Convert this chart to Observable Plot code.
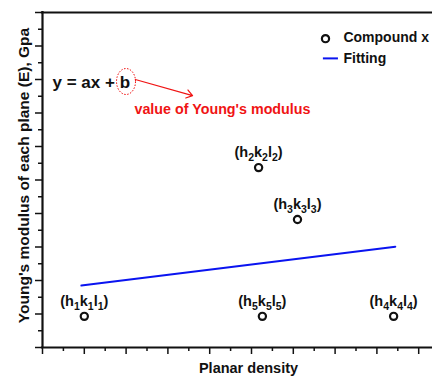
<!DOCTYPE html>
<html>
<head>
<meta charset="utf-8">
<script src="https://cdn.jsdelivr.net/npm/d3@7"></script>
<script src="https://cdn.jsdelivr.net/npm/@observablehq/plot@0.6"></script>
<style>
  html, body { margin: 0; padding: 0; background: #fff; overflow: hidden; }
</style>
</head>
<body>
<div id="chart"></div>
<script>
// ---- data ----
const planes = ["(h1k1l1)", "(h2k2l2)", "(h3k3l3)", "(h5k5l5)", "(h4k4l4)"];
const density = [1.0, 5.17, 6.10, 5.26, 8.40];
const modulus = [0.93, 5.37, 3.82, 0.93, 0.93];
const fitX = [0.93, 8.44];
const fitY = [1.85, 3.01];
const xMajor = [0, 1, 2, 3, 4, 5, 6, 7, 8, 9];
const xMinor = [0.5, 1.5, 2.5, 3.5, 4.5, 5.5, 6.5, 7.5, 8.5];
const yMajor = [0, 1, 2, 3, 4, 5, 6, 7, 8, 9, 10];
const yMinor = [0.5, 1.5, 2.5, 3.5, 4.5, 5.5, 6.5, 7.5, 8.5, 9.5];
const legendLabels = ["Compound x", "Fitting"];
const xLabel = "Planar density";
const yLabel = "Young's modulus of each plane (E), Gpa";
const equation = "y = ax + b";
const note = "value of Young's modulus";

const points = planes.map((p, i) => ({label: p, x: density[i], y: modulus[i]}));
const fit = fitX.map((x, i) => ({x, y: fitY[i]}));

const FONT = "'Liberation Sans', Arial, sans-serif";
const INK = "#111";
const RED = "#f01414";
const BLUE = "#0a14f0";

const ellipseSymbol = {
  draw(ctx) {
    const rx = 9.5, ry = 13, k = 0.5523;
    ctx.moveTo(rx, 0);
    ctx.bezierCurveTo(rx, k * ry, k * rx, ry, 0, ry);
    ctx.bezierCurveTo(-k * rx, ry, -rx, k * ry, -rx, 0);
    ctx.bezierCurveTo(-rx, -k * ry, -k * rx, -ry, 0, -ry);
    ctx.bezierCurveTo(k * rx, -ry, rx, -k * ry, rx, 0);
    ctx.closePath();
  }
};

const xMax = 390 / 41.8;

const chart = Plot.plot({
  width: 432,
  height: 377,
  marginLeft: 42,
  marginRight: 0,
  marginTop: 12,
  marginBottom: 30,
  style: {fontFamily: FONT, fontWeight: "bold", background: "#fff", color: INK},
  x: {domain: [0, xMax], axis: null},
  y: {domain: [0, 10], axis: null},
  marks: [
    // ticks
    Plot.axisX({ticks: xMajor, tickSize: 7, tickFormat: () => "", strokeWidth: 1.5, stroke: INK, label: null}),
    Plot.axisX({ticks: xMinor, tickSize: 4, tickFormat: () => "", strokeWidth: 1.5, stroke: INK, label: null}),
    Plot.axisY({ticks: yMajor, tickSize: 7, tickFormat: () => "", strokeWidth: 1.5, stroke: INK, label: null}),
    Plot.axisY({ticks: yMinor, tickSize: 4, tickFormat: () => "", strokeWidth: 1.5, stroke: INK, label: null}),
    // frame lines
    Plot.ruleY([0, 10], {stroke: INK, strokeWidth: 2.2, strokeLinecap: "square"}),
    Plot.ruleX([0], {stroke: INK, strokeWidth: 2.2, strokeLinecap: "square"}),
    // fitting line
    Plot.line(fit, {x: "x", y: "y", stroke: BLUE, strokeWidth: 2}),
    // points
    Plot.dot(points, {x: "x", y: "y", r: 3.6, stroke: INK, strokeWidth: 2.2, fill: "#fff"}),
    Plot.text(points, {x: "x", y: "y", text: "label", dy: -15, fontSize: 14.5, fill: INK, lineAnchor: "middle"}),
    // equation annotation
    Plot.text([equation], {x: 0.24, y: 7.92, textAnchor: "start", fontSize: 17, fill: INK, lineAnchor: "middle"}),
    Plot.dot([0], {x: 1.998, y: 7.94, symbol: ellipseSymbol, stroke: RED, strokeWidth: 1, strokeDasharray: "1.5,1.5", fill: "none"}),
    Plot.arrow([0], {x1: 2.22, y1: 8.0, x2: 3.59, y2: 7.52, stroke: RED, strokeWidth: 1.2, headLength: 9, headAngle: 70}),
    Plot.text([note], {x: 2.20, y: 7.12, textAnchor: "start", fontSize: 14.3, fill: RED, lineAnchor: "middle"}),
    // legend
    Plot.dot([legendLabels[0]], {x: 6.77, y: 9.22, r: 3.6, stroke: INK, strokeWidth: 2.2, fill: "#fff"}),
    Plot.ruleY([8.63], {x1: 6.72, x2: 7.08, stroke: BLUE, strokeWidth: 2}),
    Plot.text(legendLabels, {x: 7.20, y: [9.24, 8.64], textAnchor: "start", fontSize: 14, fill: INK, lineAnchor: "middle"}),
    // axis labels
    Plot.text([xLabel], {frameAnchor: "bottom", textAnchor: "middle", dx: 11, dy: 20.5, fontSize: 14.5, fill: INK, lineAnchor: "middle"}),
    Plot.text([yLabel], {frameAnchor: "left", textAnchor: "middle", dx: -18, dy: -4.5, rotate: -90, fontSize: 15.5, fill: INK, lineAnchor: "middle"})
  ]
});

// subscripts in plane labels
d3.select(chart).selectAll("text").each(function () {
  const t = this.textContent;
  const m = t.match(/^\(h(\d)k(\d)l(\d)\)$/);
  if (!m) return;
  const el = d3.select(this);
  el.text(null);
  const parts = [["(h", 0], [m[1], 1], ["k", 0], [m[2], 1], ["l", 0], [m[3], 1], [")", 0]];
  let sub = false;
  for (const [s, isSub] of parts) {
    const ts = el.append("tspan").text(s);
    if (isSub) {
      ts.attr("font-size", 10.5);
      if (!sub) ts.attr("dy", 4);
      sub = true;
    } else {
      if (sub) ts.attr("dy", -4);
      sub = false;
    }
  }
});

document.getElementById("chart").appendChild(chart);
</script>
</body>
</html>
